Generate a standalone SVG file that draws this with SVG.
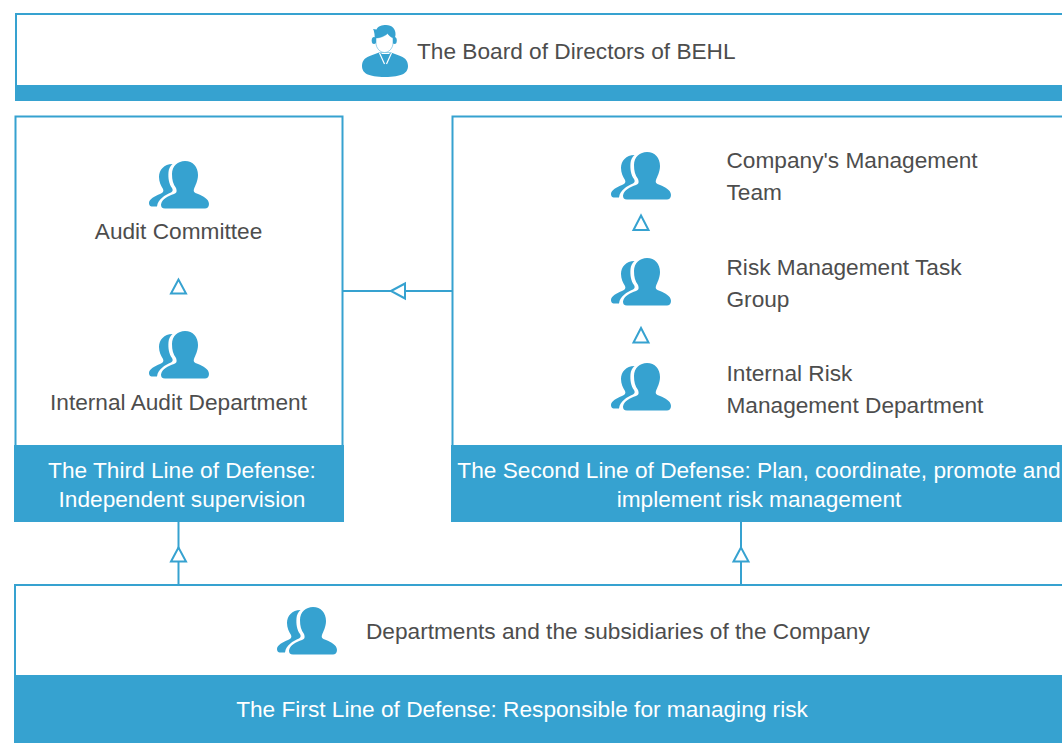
<svg xmlns="http://www.w3.org/2000/svg" width="1062" height="743" viewBox="0 0 1062 743">
<style>
.box{fill:#fff;stroke:#36a2d0;stroke-width:2}
.band{fill:#36a2d0}
.t{font-family:"Liberation Sans",Arial,sans-serif;font-size:22.67px;fill:#4d4d4d}
.w{fill:#fff}
.m{text-anchor:middle}
.i{fill:#36a2d0}
.c{fill:none;stroke:#36a2d0;stroke-width:2}
.h{fill:#fff;stroke:#36a2d0;stroke-width:2}
</style>
<defs>
<g id="people">
<path class="i" d="M36 0C44 0 49 6 49 14C49 20 46 25 45 28C44 31 46 32 49 33C54 35 60 38 60 43C60 46 58 47.500 56 47.500L16 47.500C13 47.500 12 46 12 43.500C13 38 19 35 25 33C28 32 28 30 27 27C24 23 23 19 23 13C23 5 29 0 36 0Z"/>
<path class="i" d="M23.500 3C15 3 10 9 10 16C10 21 12 25 14 28C15 30 14 32 11 33C6 35 0 38 0 42C0 45 2 45.500 4 45.500L8 45.500C9 38 16 34 22 31.500C24 30 24 29 23 27C20 23 19 17 19.500 11C19.800 8 21 5 23.500 3Z"/>
</g>
</defs>
<rect width="1062" height="743" fill="#fff"/>
<g id="board">
<rect class="box" x="16" y="14" width="1060" height="86"/>
<rect class="band" x="15" y="85" width="1062" height="16"/>
<path class="i" d="M362 66C362 60 366 57 371 55.500L379 52.500L391 52.500L399 55.500C404 57 408 60 408 66C408 73 402 77 385 77C368 77 362 73 362 66Z"/>
<path fill="none" stroke="#fff" stroke-width="1.200" d="M379.500 53L384.500 64M391.500 53L386.500 64M381.500 53.500H389.500"/>
<ellipse class="i" cx="374" cy="40.500" rx="2.300" ry="3.500"/>
<ellipse class="i" cx="394.500" cy="40.500" rx="2.300" ry="3.500"/>
<path class="i" d="M373 29L376.500 29.500C378 26 382 25 386 25C392 25 396 29 395.500 35L394 42L375 42L374.500 34C374 32 374 30 373 29Z"/>
<path fill="#fff" stroke="#36a2d0" stroke-width="0.500" d="M376 38C380 38 385 36 387.500 33.500C389 35.500 391 37 393 38L393 43C393 48 389 52.500 384.500 52.500C380 52.500 376 48 376 43Z"/>
<text class="t" x="417" y="59">The Board of Directors of BEHL</text>
</g>
<g id="third-line">
<rect class="box" x="15.500" y="116.500" width="327" height="330"/>
<rect class="band" x="14" y="445" width="330" height="77"/>
<text class="t w m" x="182" y="478">The Third Line of Defense:</text>
<text class="t w m" x="182" y="507">Independent supervision</text>
</g>
<g id="audit-committee">
<use href="#people" x="149" y="161"/>
<text class="t m" x="178.500" y="239">Audit Committee</text>
</g>
<g id="internal-audit">
<use href="#people" x="149" y="331"/>
<text class="t m" x="178.500" y="410">Internal Audit Department</text>
</g>
<g id="second-line">
<rect class="box" x="452.500" y="116.500" width="620" height="330"/>
<rect class="band" x="451" y="445" width="620" height="77"/>
<text class="t w m" x="759" y="478">The Second Line of Defense: Plan, coordinate, promote and</text>
<text class="t w m" x="759" y="507">implement risk management</text>
</g>
<g id="management-team">
<use href="#people" x="611" y="152"/>
<text class="t" x="726.500" y="168">Company's Management</text>
<text class="t" x="726.500" y="200">Team</text>
</g>
<g id="risk-task-group">
<use href="#people" x="611" y="258"/>
<text class="t" x="726.500" y="275">Risk Management Task</text>
<text class="t" x="726.500" y="307">Group</text>
</g>
<g id="internal-risk">
<use href="#people" x="611" y="363"/>
<text class="t" x="726.500" y="381">Internal Risk</text>
<text class="t" x="726.500" y="413">Management Department</text>
</g>
<g id="first-line">
<rect class="box" x="15" y="585" width="1060" height="170"/>
<rect class="band" x="14" y="675" width="1060" height="70"/>
<use href="#people" x="277" y="607"/>
<text class="t" x="366" y="639">Departments and the subsidiaries of the Company</text>
<text class="t w m" x="522" y="717">The First Line of Defense: Responsible for managing risk</text>
</g>
<g id="connectors">
<path class="c" d="M343 291H452"/>
<path class="h" d="M391 291L405 283.500V298.500Z"/>
<path class="c" d="M178.500 522V585"/>
<path class="h" d="M178.500 547.500L171 561.500H186Z"/>
<path class="c" d="M741 522V585"/>
<path class="h" d="M741 547.500L733.500 561.500H748.500Z"/>
<path class="h" d="M178.500 279.500L171 293.500H186Z"/>
<path class="h" d="M641 215.500L633.500 230H648.500Z"/>
<path class="h" d="M641 328L633.500 342.500H648.500Z"/>
</g>
</svg>
